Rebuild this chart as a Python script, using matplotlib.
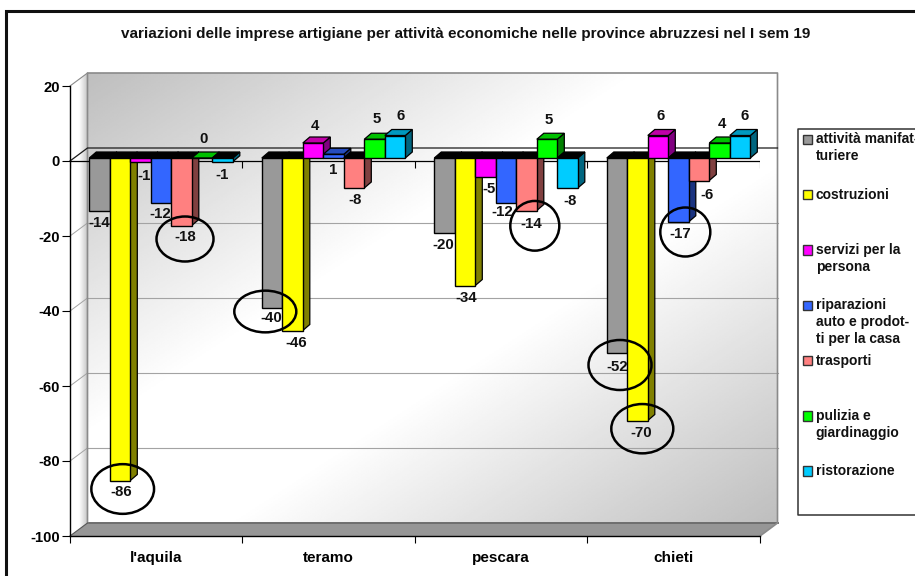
import numpy as np
import matplotlib
matplotlib.use("Agg")
import matplotlib.pyplot as plt
from matplotlib.patches import Ellipse, Polygon, Rectangle

plt.rcParams['font.family'] = ['Liberation Sans', 'DejaVu Sans']
plt.rcParams['font.weight'] = 'bold'
plt.rcParams['axes.unicode_minus'] = False

title = "variazioni delle imprese artigiane per attività economiche nelle province abruzzesi nel I sem 19"
provinces = ["l'aquila", "teramo", "pescara", "chieti"]
series_names = ["attività manifat-\nturiere", "costruzioni", "servizi per la\npersona",
                "riparazioni\nauto e prodot-\nti per la casa", "trasporti",
                "pulizia e\ngiardinaggio", "ristorazione"]

manifatturiere = [-14, -40, -20, -52]
costruzioni = [-86, -46, -34, -70]
servizi = [-1, 4, -5, 6]
riparazioni = [-12, 1, -12, -17]
trasporti = [-18, -8, -14, -6]
pulizia = [0, 5, 5, 4]
ristorazione = [-1, 6, -8, 6]
series = [manifatturiere, costruzioni, servizi, riparazioni, trasporti, pulizia, ristorazione]

y_ticks = [20, 0, -20, -40, -60, -80, -100]

front_cols = ['#999999', '#ffff00', '#ff00ff', '#3366ff', '#ff8080', '#00ff00', '#00ccff']
top_cols = ['#737373', '#c0c000', '#c000a8', '#264dbf', '#bf6060', '#00c000', '#0099bf']
side_cols = ['#4d4d4d', '#808000', '#800080', '#1a3380', '#804040', '#008000', '#006680']

# where the value labels sit on the picture, hand placed, one list per series
label_px = [
    [(99, 222), (271, 317), (443, 244), (617, 366)],
    [(121, 491), (296, 342), (466, 297), (641, 432)],
    [(144, 175), (315, 125), (489, 188), (661, 115)],
    [(160, 213), (333, 169), (502, 211), (680, 233)],
    [(185, 236), (355, 199), (531, 223), (707, 194)],
    [(204, 138), (377, 118), (549, 119), (722, 123)],
    [(222, 174), (401, 115), (570, 200), (745, 115)],
]
# the circles drawn by hand round the worst values: x, y, width, height
circles = [(122.7, 489, 62.7, 49.7), (185, 239, 57, 45), (265.3, 311.5, 62, 41.7),
           (534.8, 225.8, 49, 49.7), (685.3, 232, 50, 49), (620, 365, 63, 50),
           (642.3, 428.7, 62, 49.3)]

W, H = 915, 576
L, R, T, B = 70, 760, 86, 536  # front plane of the plot in pixels
DEPTH_X, DEPTH_Y = 17.5, 13    # depth of the walls
GRID = '#a3a3a3'

fig = plt.figure(figsize=(W / 100, H / 100), dpi=100, facecolor='white')

# background layer in pixels: walls, floor, frame
bg = fig.add_axes([0, 0, 1, 1], zorder=0)
bg.set_xlim(0, W)
bg.set_ylim(H, 0)
bg.axis('off')

wl, wr, wt, wb = L + DEPTH_X, R + DEPTH_X, T - DEPTH_Y, B - DEPTH_Y
gx, gy = np.meshgrid(np.linspace(0, 1, 300), np.linspace(0, 1, 300))
t = (gx + gy) / 2
wall = 190 + 65 * np.minimum(1, (1 - np.abs(2 * t - 1)) * 1.25)
bg.imshow(wall, extent=(wl, wr, wb, wt), cmap='gray', vmin=0, vmax=255, aspect='auto', zorder=1)

side = np.tile(np.concatenate([np.full(30, 255.0), np.linspace(255, 195, 30)]), (10, 1))
im = bg.imshow(side, extent=(L, wl, B, T - DEPTH_Y), cmap='gray', vmin=0, vmax=255, aspect='auto', zorder=1)
side_poly = Polygon([(L, T), (wl, wt), (wl, wb), (L, B)], closed=True, fc='none', ec='none', transform=bg.transData)
bg.add_patch(side_poly)
im.set_clip_path(side_poly)
bg.set_xlim(0, W)
bg.set_ylim(H, 0)

bg.add_patch(Polygon([(L, B), (wl, wb), (wr, wb), (R, B)], closed=True, fc='#969696', ec='none', zorder=2))
bg.plot([wl, wr], [wb, wb], color='#6e6e6e', lw=1.4, zorder=3)
bg.plot([wl, wl, wr, wr, R], [wb, wt, wt, wb, B], color='#8a8a8a', lw=1.2, zorder=3)
bg.plot([L, wl], [T, wt], color='#8a8a8a', lw=0.8, zorder=3)

px_per_unit = (B - T) / 120
for v in y_ticks[2:-1]:
    yy = T + (20 - v) * px_per_unit
    bg.plot([wl, wr], [yy - DEPTH_Y] * 2, color=GRID, lw=0.8, zorder=2)
    bg.plot([L, wl], [yy, yy - DEPTH_Y], color=GRID, lw=0.7, zorder=2)
zero_y = T + 20 * px_per_unit
bg.plot([L, wl, wr], [zero_y, zero_y - DEPTH_Y, zero_y - DEPTH_Y], color='#1a1a1a', lw=0.9, zorder=3)
bg.plot([L, wl], [B, wb], color='#555555', lw=0.8, zorder=3)

bg.plot([6, 6, W], [H, 11, 11], color='#111111', lw=2.2, solid_joinstyle='miter', zorder=4)

# chart axes: the front plane
ax = fig.add_axes([L / W, 1 - B / H, (R - L) / W, (B - T) / H], zorder=1)
ax.patch.set_visible(False)
ax.set_xlim(0, len(provinces))
ax.set_ylim(-100, 20)
for s in ['top', 'right']:
    ax.spines[s].set_visible(False)
ax.spines['left'].set_linewidth(1)
ax.spines['bottom'].set_linewidth(1)
ax.set_yticks(y_ticks)
ax.tick_params(axis='y', length=5.5, width=0.8, labelsize=10.7, pad=2)
ax.set_xticks(range(len(provinces) + 1))
ax.set_xticklabels([])
ax.tick_params(axis='x', which='major', length=5, width=0.8)
ax.set_xticks(np.arange(len(provinces)) + 0.5, labels=provinces, minor=True)
ax.tick_params(axis='x', which='minor', length=0, labelsize=11, pad=10.5)

ax.axhline(0, color='black', lw=0.9, zorder=1)
ax.vlines(range(len(provinces) + 1), -1.8, 0, color='black', lw=0.8, zorder=1)

bar_w = 20.5 / 172.5
first = 19.3 / 172.5
dx = 7 / 172.5
dy = 6 / px_per_unit
base = 3 / px_per_unit

z = 2
for g in range(len(provinces)):
    for i, vals in enumerate(series):
        v = vals[g]
        left = g + first + i * bar_w
        right = left + bar_w
        end = base + v
        top = max(base, end)
        # each bar is painted over its left neighbour
        ax.add_patch(Polygon([(right, base), (right + dx, base + dy), (right + dx, end + dy), (right, end)],
                             closed=True, fc=side_cols[i], ec='black', lw=0.9, zorder=z))
        ax.add_patch(Polygon([(left, top), (right, top), (right + dx, top + dy), (left + dx, top + dy)],
                             closed=True, fc='black' if v < 0 else top_cols[i], ec='black', lw=0.9, zorder=z))
        ax.bar(left + bar_w / 2, v, width=bar_w, bottom=base, color=front_cols[i],
               edgecolor='black', linewidth=1, zorder=z)
        z += 1

# top layer in pixels: labels, circles, legend
over = fig.add_axes([0, 0, 1, 1], zorder=2)
over.set_xlim(0, W)
over.set_ylim(H, 0)
over.axis('off')

over.text(466, 34, title, ha='center', va='center', fontsize=11, color='#111111')

for i, vals in enumerate(series):
    for g, v in enumerate(vals):
        x, y = label_px[i][g]
        over.text(x, y + 1, str(v), ha='center', va='center', fontsize=10.8, color='#111111')

for cx, cy, w, h in circles:
    over.add_patch(Ellipse((cx, cy), w, h, fc='none', ec='black', lw=1.8))

over.plot([W, 798, 798, W], [128.5, 128.5, 515, 515], color='#333333', lw=1.1)
for i, name in enumerate(series_names):
    y0 = 139.3 + i * 55.3
    over.add_patch(Rectangle((802.7, y0 - 4.7), 9.4, 9.4, fc=front_cols[i], ec='#333333', lw=1))
    for n, line in enumerate(name.split("\n")):
        over.text(815.7, y0 + n * 17, line, ha='left', va='center', fontsize=10, color='#111111')

fig.savefig("out.png", dpi=100)
